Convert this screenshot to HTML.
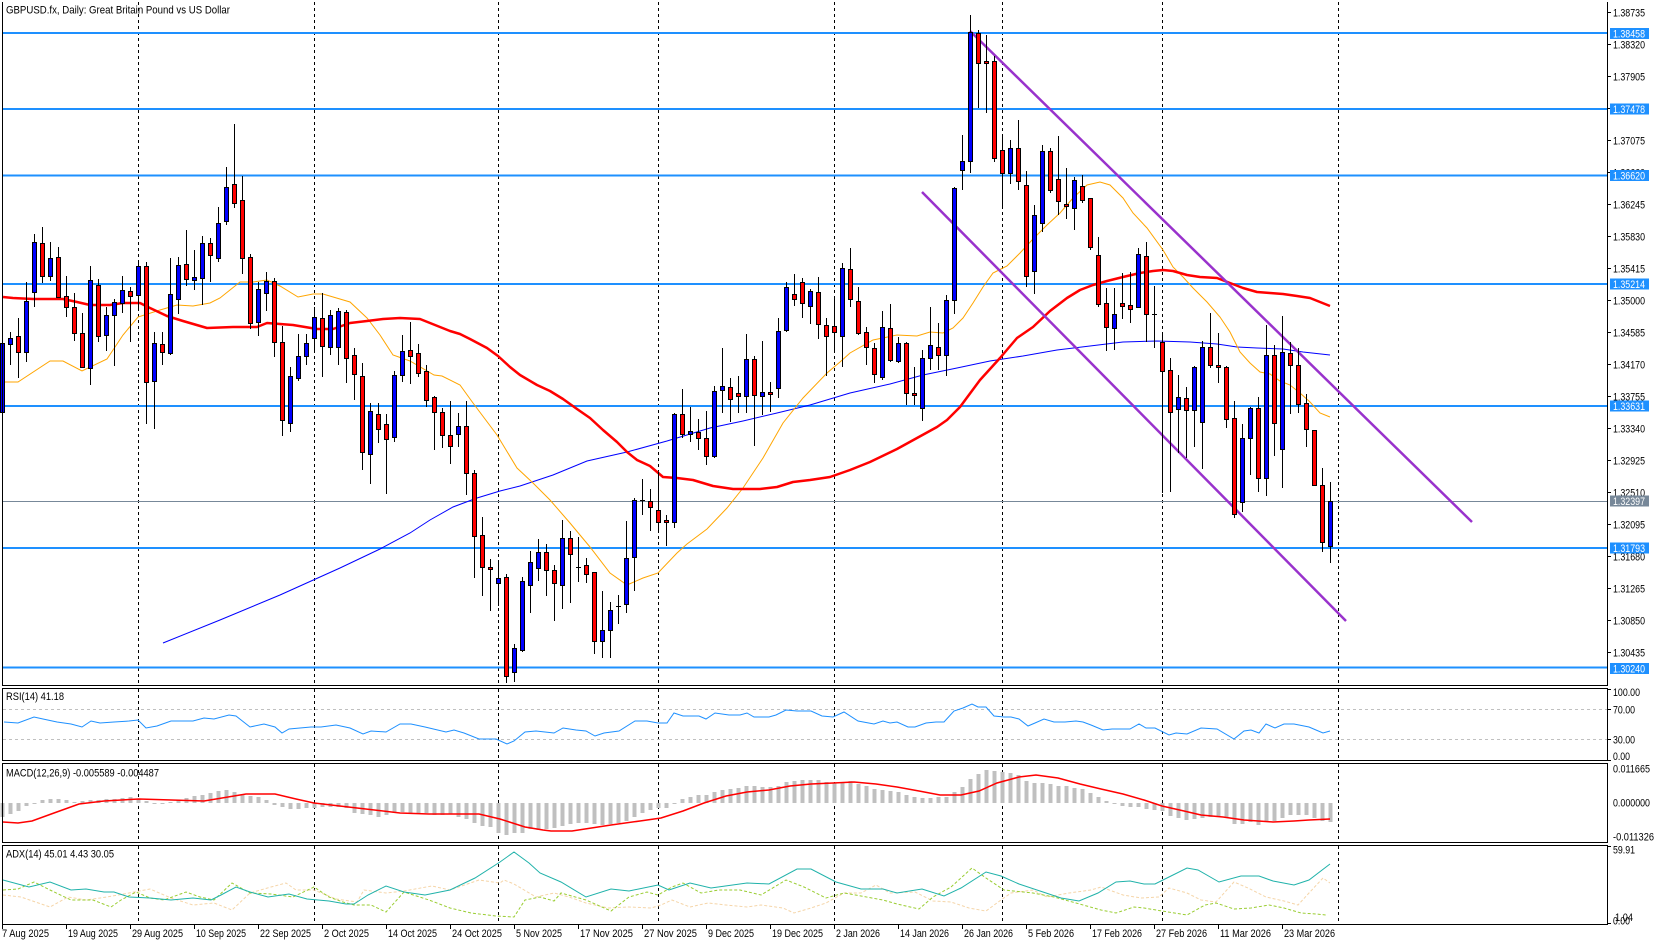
<!DOCTYPE html>
<html><head><meta charset="utf-8"><style>
html,body{margin:0;padding:0;background:#fff;}
svg{display:block;}
text{font-family:"Liberation Sans",Arial,sans-serif;font-size:11px;fill:#000;}
</style></head><body>
<svg width="1660" height="945" viewBox="0 0 1660 945" xmlns="http://www.w3.org/2000/svg">
<rect x="0" y="0" width="1660" height="945" fill="#fff"/>

<!-- separators -->
<g stroke="#000" stroke-width="1" stroke-dasharray="3,3" fill="none">
<path d="M138.5 2V685M314.5 2V685M498.5 2V685M658.5 2V685M834.5 2V685M1002.5 2V685M1162.5 2V685M1338.5 2V685"/>
<path d="M138.5 689V760M314.5 689V760M498.5 689V760M658.5 689V760M834.5 689V760M1002.5 689V760M1162.5 689V760M1338.5 689V760"/>
<path d="M138.5 764V842M314.5 764V842M498.5 764V842M658.5 764V842M834.5 764V842M1002.5 764V842M1162.5 764V842M1338.5 764V842"/>
<path d="M138.5 846V924M314.5 846V924M498.5 846V924M658.5 846V924M834.5 846V924M1002.5 846V924M1162.5 846V924M1338.5 846V924"/>
</g>

<!-- horizontal levels -->
<g stroke="#1e90ff" stroke-width="2">
<path d="M2 33H1607M2 109H1607M2 175.5H1607M2 284H1607M2 406H1607M2 548H1607M2 667.5H1607"/>
</g>
<path d="M2 501.5H1607" stroke="#778899" stroke-width="1"/>

<!-- moving averages -->
<polyline fill="none" stroke="#0000ff" stroke-width="1" points="163,643 220,620 280,595 340,568 380,549 410,533 430,520 453,507 477,498 500,491 520,486 553,475 587,461 627,452 667,441 710,428 743,421 777,413 810,405 850,393 890,384 923,375 957,368 990,361 1023,356 1057,350 1090,346 1123,342 1157,341 1190,342 1217,344 1237,347 1257,348 1283,349 1303,352 1330,355"/>
<polyline fill="none" stroke="#ffa500" stroke-width="1" points="3,382 18,382 50,361 63,361 82,371 107,359 123,335 138,317 160,310 177,305 193,306 210,303 220,298 240,282 253,282 267,280 280,286 298,297 313,294 323,294 350,302 367,318 380,335 393,355 410,361 434,375 442,376 460,385 473,403 497,435 517,468 533,483 550,500 570,523 590,547 610,573 627,585 643,578 658,573 677,553 687,544 707,529 727,508 743,488 763,458 783,423 803,398 827,373 840,362 850,353 873,340 897,335 917,336 930,332 943,333 953,328 963,318 973,303 983,287 993,273 1007,266 1020,253 1033,239 1047,225 1060,213 1073,198 1087,185 1100,182 1110,185 1123,198 1133,213 1147,228 1163,250 1173,267 1183,277 1193,288 1207,302 1220,317 1230,332 1240,352 1250,363 1260,372 1270,374 1280,381 1290,385 1300,393 1310,402 1320,413 1330,417"/>
<polyline fill="none" stroke="#ff0000" stroke-width="2.5" stroke-linejoin="round" points="3,297 13,298 33,299 63,299 77,302 90,305 110,305 123,303 140,303 150,308 167,316 183,321 207,328 233,327 257,327 267,323 293,325 317,329 333,329 350,323 367,321 383,319 400,318 420,319 430,323 450,331 460,334 470,339 487,348 498,356 510,367 520,375 537,385 550,391 563,399 577,409 590,418 603,430 617,442 627,452 637,460 650,466 663,477 677,478 693,480 713,486 733,489 760,489 777,487 793,482 810,480 830,477 850,470 870,462 897,449 917,438 937,427 947,420 960,407 980,380 1000,358 1017,338 1033,327 1050,311 1067,298 1080,290 1093,285 1107,281 1123,277 1140,273 1153,271 1163,270 1173,271 1187,275 1200,277 1217,278 1230,283 1243,288 1257,292 1270,293 1283,294 1297,296 1310,298 1320,302 1330,306"/>

<!-- channel -->
<g stroke="#9932cc" stroke-width="2.5">
<line x1="970" y1="31" x2="1472" y2="522"/>
<line x1="922" y1="192" x2="1346" y2="621"/>
</g>

<!-- wicks -->
<path fill="none" stroke="#000" stroke-width="1" d="M2.5 343V412M10.5 332V365M18.5 318V378M26.5 282V362M34.5 234V307M42.5 227V283M50.5 242V281M58.5 247V297M66.5 276V317M74.5 293V341M82.5 313V367M90.5 266V385M98.5 279V342M106.5 307V351M114.5 299V366M122.5 276V313M130.5 287V342M138.5 260V308M146.5 262V424M154.5 332V429M162.5 332V365M170.5 258V355M178.5 257V314M186.5 230V286M194.5 250V290M202.5 236V305M210.5 238V282M218.5 207V262M226.5 167V225M234.5 124V208M242.5 176V274M250.5 254V329M258.5 282V336M266.5 272V311M274.5 278V357M282.5 326V436M290.5 367V432M298.5 334V381M306.5 334V365M314.5 307V353M322.5 293V377M330.5 310V355M338.5 308V365M346.5 310V383M354.5 348V400M362.5 363V470M370.5 403V484M378.5 403V443M386.5 414V494M394.5 371V442M402.5 335V382M410.5 322V384M418.5 344V377M426.5 365V407M434.5 396V450M442.5 408V448M450.5 401V464M458.5 413V447M466.5 401V495M474.5 470V578M482.5 517V596M490.5 559V611M498.5 560V606M506.5 574V683M514.5 644V682M522.5 577V652M530.5 551V613M538.5 539V581M546.5 544V596M554.5 565V621M562.5 520V609M570.5 531V603M578.5 537V582M576 567.5h5M586.5 558V583M594.5 572V654M602.5 591V658M610.5 602V658M618.5 595V624M616 606.5h5M626.5 521V613M634.5 498V591M642.5 479V515M640 500.5h5M650.5 489V531M658.5 472V532M666.5 515V546M674.5 413V528M682.5 389V438M690.5 407V442M698.5 419V450M706.5 411V465M714.5 386V458M722.5 348V413M730.5 378V422M738.5 376V413M746.5 334V413M754.5 356V446M762.5 341V415M770.5 382V412M778.5 318V398M786.5 282V332M794.5 274V306M802.5 278V318M810.5 289V324M818.5 277V339M826.5 318V376M834.5 296V352M842.5 263V367M850.5 248V307M858.5 287V335M866.5 327V365M874.5 343V383M882.5 311V380M890.5 304V362M898.5 337V363M906.5 342V405M914.5 367V405M922.5 350V421M930.5 307V370M938.5 323V370M946.5 295V376M954.5 187V314M962.5 135V190M970.5 15V173M978.5 30V108M986.5 35V113M994.5 56V162M1002.5 134V208M1010.5 140V184M1018.5 120V190M1026.5 171V287M1034.5 205V294M1042.5 145V232M1050.5 148V193M1058.5 136V215M1066.5 168V219M1074.5 177V230M1082.5 175V203M1090.5 198V250M1098.5 237V307M1106.5 288V351M1114.5 288V350M1122.5 273V319M1130.5 272V323M1138.5 248V308M1146.5 242V342M1154.5 286V348M1152 314.5h5M1162.5 332V493M1170.5 358V492M1178.5 375V453M1186.5 387V458M1194.5 366V447M1202.5 341V469M1210.5 313V368M1218.5 333V383M1226.5 366V428M1234.5 401V518M1242.5 424V512M1250.5 407V475M1258.5 397V492M1266.5 325V496M1274.5 345V456M1282.5 316V488M1290.5 342V414M1298.5 348V413M1306.5 394V447M1314.5 430V486M1322.5 468V552M1330.5 482V563"/>

<!-- bull bodies -->
<path fill="#0000ff" stroke="#000" stroke-width="1" d="M0.5 343.5h4v69h-4zM8.5 338.5h4v6h-4zM24.5 301.5h4v51h-4zM32.5 242.5h4v50h-4zM48.5 258.5h4v18h-4zM88.5 280.5h4v88h-4zM104.5 315.5h4v20h-4zM112.5 302.5h4v13h-4zM120.5 290.5h4v13h-4zM136.5 266.5h4v29h-4zM152.5 343.5h4v38h-4zM168.5 294.5h4v59h-4zM176.5 265.5h4v34h-4zM192.5 277.5h4v3h-4zM200.5 243.5h4v35h-4zM216.5 223.5h4v35h-4zM224.5 187.5h4v34h-4zM256.5 289.5h4v33h-4zM264.5 281.5h4v12h-4zM288.5 376.5h4v47h-4zM296.5 356.5h4v22h-4zM304.5 343.5h4v13h-4zM312.5 317.5h4v21h-4zM328.5 315.5h4v32h-4zM336.5 311.5h4v36h-4zM368.5 411.5h4v43h-4zM392.5 375.5h4v62h-4zM400.5 351.5h4v24h-4zM456.5 426.5h4v8h-4zM496.5 578.5h4v5h-4zM512.5 648.5h4v24h-4zM520.5 581.5h4v69h-4zM528.5 562.5h4v23h-4zM536.5 552.5h4v16h-4zM560.5 538.5h4v47h-4zM600.5 630.5h4v11h-4zM608.5 610.5h4v20h-4zM624.5 558.5h4v46h-4zM632.5 500.5h4v57h-4zM672.5 414.5h4v108h-4zM688.5 431.5h4v3h-4zM712.5 391.5h4v65h-4zM720.5 386.5h4v4h-4zM744.5 359.5h4v37h-4zM760.5 392.5h4v4h-4zM776.5 331.5h4v57h-4zM784.5 287.5h4v43h-4zM808.5 291.5h4v15h-4zM840.5 268.5h4v68h-4zM880.5 327.5h4v50h-4zM896.5 343.5h4v18h-4zM920.5 358.5h4v50h-4zM928.5 345.5h4v13h-4zM944.5 300.5h4v55h-4zM952.5 188.5h4v112h-4zM960.5 161.5h4v9h-4zM968.5 32.5h4v129h-4zM1008.5 148.5h4v25h-4zM1032.5 215.5h4v56h-4zM1040.5 151.5h4v72h-4zM1072.5 180.5h4v28h-4zM1112.5 314.5h4v14h-4zM1136.5 254.5h4v53h-4zM1176.5 397.5h4v12h-4zM1192.5 367.5h4v43h-4zM1200.5 347.5h4v75h-4zM1240.5 438.5h4v64h-4zM1248.5 408.5h4v30h-4zM1264.5 355.5h4v123h-4zM1280.5 352.5h4v97h-4zM1328.5 501.5h4v45h-4z"/>

<!-- bear bodies -->
<path fill="#ff0000" stroke="#000" stroke-width="1" d="M16.5 336.5h4v16h-4zM40.5 243.5h4v33h-4zM56.5 257.5h4v40h-4zM64.5 296.5h4v11h-4zM72.5 307.5h4v26h-4zM80.5 333.5h4v34h-4zM96.5 285.5h4v51h-4zM128.5 291.5h4v5h-4zM144.5 266.5h4v116h-4zM160.5 344.5h4v8h-4zM184.5 264.5h4v15h-4zM208.5 243.5h4v12h-4zM232.5 184.5h4v19h-4zM240.5 200.5h4v58h-4zM248.5 257.5h4v66h-4zM272.5 281.5h4v61h-4zM280.5 342.5h4v78h-4zM320.5 318.5h4v28h-4zM344.5 312.5h4v46h-4zM352.5 355.5h4v19h-4zM360.5 376.5h4v76h-4zM376.5 414.5h4v15h-4zM384.5 424.5h4v15h-4zM408.5 350.5h4v6h-4zM416.5 353.5h4v20h-4zM424.5 371.5h4v29h-4zM432.5 397.5h4v15h-4zM440.5 412.5h4v23h-4zM448.5 435.5h4v11h-4zM464.5 426.5h4v47h-4zM472.5 473.5h4v63h-4zM480.5 535.5h4v32h-4zM488.5 567.5h4v2h-4zM504.5 577.5h4v99h-4zM544.5 552.5h4v18h-4zM552.5 570.5h4v13h-4zM568.5 538.5h4v16h-4zM584.5 565.5h4v9h-4zM592.5 572.5h4v69h-4zM648.5 501.5h4v6h-4zM656.5 510.5h4v12h-4zM664.5 520.5h4v2h-4zM680.5 414.5h4v20h-4zM696.5 432.5h4v6h-4zM704.5 438.5h4v18h-4zM728.5 387.5h4v12h-4zM736.5 393.5h4v3h-4zM752.5 359.5h4v36h-4zM768.5 392.5h4v2h-4zM792.5 294.5h4v5h-4zM800.5 282.5h4v21h-4zM816.5 292.5h4v32h-4zM824.5 325.5h4v11h-4zM832.5 326.5h4v6h-4zM848.5 269.5h4v30h-4zM856.5 301.5h4v32h-4zM864.5 332.5h4v15h-4zM872.5 348.5h4v26h-4zM888.5 328.5h4v32h-4zM904.5 343.5h4v50h-4zM912.5 393.5h4v2h-4zM936.5 347.5h4v8h-4zM976.5 33.5h4v30h-4zM984.5 61.5h4v2h-4zM992.5 61.5h4v97h-4zM1000.5 150.5h4v23h-4zM1016.5 148.5h4v33h-4zM1024.5 185.5h4v91h-4zM1048.5 151.5h4v39h-4zM1056.5 179.5h4v22h-4zM1064.5 204.5h4v2h-4zM1080.5 186.5h4v14h-4zM1088.5 198.5h4v49h-4zM1096.5 255.5h4v49h-4zM1104.5 303.5h4v24h-4zM1120.5 303.5h4v3h-4zM1128.5 305.5h4v4h-4zM1144.5 256.5h4v58h-4zM1160.5 342.5h4v29h-4zM1168.5 370.5h4v42h-4zM1184.5 398.5h4v12h-4zM1208.5 347.5h4v18h-4zM1216.5 365.5h4v2h-4zM1224.5 367.5h4v52h-4zM1232.5 418.5h4v96h-4zM1256.5 408.5h4v70h-4zM1272.5 355.5h4v68h-4zM1288.5 353.5h4v12h-4zM1296.5 365.5h4v39h-4zM1304.5 403.5h4v26h-4zM1312.5 430.5h4v55h-4zM1320.5 485.5h4v57h-4z"/>

<!-- title -->
<text x="6" y="13.5" textLength="224" lengthAdjust="spacingAndGlyphs">GBPUSD.fx, Daily:  Great Britain Pound vs US Dollar</text>

<!-- RSI -->
<g stroke="#c0c0c0" stroke-width="1" stroke-dasharray="3,3"><path d="M3 709.5H1607M3 739.5H1607"/></g>
<polyline fill="none" stroke="#1e90ff" stroke-width="1" points="4,722 18,723 34,717 43,719 57,722 71,724 82,727 91,721 100,723 114,722 129,721 138,720 146,728 157,726 171,721 193,721 204,718 214,719 229,715 236,716 250,727 264,724 275,727 282,733 289,729 311,727 321,727 336,725 350,728 363,734 371,731 386,732 400,724 411,724 425,727 446,732 454,730 464,733 479,739 496,739 507,744 514,741 525,732 536,731 554,733 563,728 576,730 586,731 595,736 604,733 619,731 635,721 647,721 658,723 667,723 674,713 683,716 699,716 706,719 715,713 729,715 740,715 747,713 754,717 769,717 776,715 786,710 797,711 811,711 822,716 833,717 844,712 858,721 874,724 883,721 890,723 897,722 908,727 915,727 926,723 936,722 944,722 954,711 963,708 972,704 978,707 986,707 994,716 1004,717 1011,717 1019,719 1028,726 1035,723 1044,719 1054,722 1065,722 1076,721 1083,722 1091,725 1103,730 1112,729 1130,729 1139,724 1146,728 1155,728 1169,735 1176,733 1187,734 1201,728 1217,729 1234,739 1244,731 1251,730 1259,733 1266,724 1275,728 1284,724 1294,724 1309,727 1316,730 1323,733 1330,731"/>
<text x="6" y="700" textLength="58" lengthAdjust="spacingAndGlyphs">RSI(14) 41.18</text>

<!-- MACD histogram -->
<path fill="#c0c0c0" d="M0.5 803h4v14h-4zM8.5 803h4v11h-4zM16.5 803h4v8h-4zM24.5 803h4v3h-4zM32.5 803h4v1h-4zM40.5 803h4v-3h-4zM48.5 803h4v-4h-4zM56.5 803h4v-4h-4zM64.5 803h4v-3h-4zM72.5 803h4v-1h-4zM80.5 803h4v-2h-4zM88.5 803h4v-3h-4zM96.5 803h4v-3h-4zM104.5 803h4v-4h-4zM112.5 803h4v-4h-4zM120.5 803h4v-5h-4zM128.5 803h4v-6h-4zM136.5 803h4v-4h-4zM144.5 803h4v-2h-4zM152.5 803h4v1h-4zM160.5 803h4v1h-4zM168.5 803h4v-1h-4zM176.5 803h4v-3h-4zM184.5 803h4v-5h-4zM192.5 803h4v-7h-4zM200.5 803h4v-8h-4zM208.5 803h4v-10h-4zM216.5 803h4v-12h-4zM224.5 803h4v-13h-4zM232.5 803h4v-11h-4zM240.5 803h4v-9h-4zM248.5 803h4v-7h-4zM256.5 803h4v-6h-4zM264.5 803h4v-3h-4zM272.5 803h4v2h-4zM280.5 803h4v4h-4zM288.5 803h4v6h-4zM296.5 803h4v6h-4zM304.5 803h4v5h-4zM312.5 803h4v5h-4zM320.5 803h4v4h-4zM328.5 803h4v4h-4zM336.5 803h4v4h-4zM344.5 803h4v5h-4zM352.5 803h4v10h-4zM360.5 803h4v11h-4zM368.5 803h4v12h-4zM376.5 803h4v14h-4zM384.5 803h4v12h-4zM392.5 803h4v10h-4zM400.5 803h4v9h-4zM408.5 803h4v10h-4zM416.5 803h4v10h-4zM424.5 803h4v10h-4zM432.5 803h4v12h-4zM440.5 803h4v12h-4zM448.5 803h4v11h-4zM456.5 803h4v14h-4zM464.5 803h4v16h-4zM472.5 803h4v20h-4zM480.5 803h4v23h-4zM488.5 803h4v24h-4zM496.5 803h4v30h-4zM504.5 803h4v32h-4zM512.5 803h4v30h-4zM520.5 803h4v30h-4zM528.5 803h4v26h-4zM536.5 803h4v27h-4zM544.5 803h4v26h-4zM552.5 803h4v25h-4zM560.5 803h4v23h-4zM568.5 803h4v21h-4zM576.5 803h4v20h-4zM584.5 803h4v20h-4zM592.5 803h4v21h-4zM600.5 803h4v22h-4zM608.5 803h4v21h-4zM616.5 803h4v20h-4zM624.5 803h4v18h-4zM632.5 803h4v14h-4zM640.5 803h4v10h-4zM648.5 803h4v7h-4zM656.5 803h4v5h-4zM664.5 803h4v5h-4zM672.5 803h4v1h-4zM680.5 803h4v-4h-4zM688.5 803h4v-6h-4zM696.5 803h4v-8h-4zM704.5 803h4v-8h-4zM712.5 803h4v-11h-4zM720.5 803h4v-13h-4zM728.5 803h4v-14h-4zM736.5 803h4v-15h-4zM744.5 803h4v-17h-4zM752.5 803h4v-17h-4zM760.5 803h4v-16h-4zM768.5 803h4v-16h-4zM776.5 803h4v-17h-4zM784.5 803h4v-21h-4zM792.5 803h4v-22h-4zM800.5 803h4v-23h-4zM808.5 803h4v-23h-4zM816.5 803h4v-23h-4zM824.5 803h4v-21h-4zM832.5 803h4v-20h-4zM840.5 803h4v-20h-4zM848.5 803h4v-22h-4zM856.5 803h4v-19h-4zM864.5 803h4v-17h-4zM872.5 803h4v-14h-4zM880.5 803h4v-13h-4zM888.5 803h4v-12h-4zM896.5 803h4v-11h-4zM904.5 803h4v-8h-4zM912.5 803h4v-6h-4zM920.5 803h4v-5h-4zM928.5 803h4v-5h-4zM936.5 803h4v-6h-4zM944.5 803h4v-6h-4zM952.5 803h4v-11h-4zM960.5 803h4v-16h-4zM968.5 803h4v-24h-4zM976.5 803h4v-29h-4zM984.5 803h4v-33h-4zM992.5 803h4v-32h-4zM1000.5 803h4v-31h-4zM1008.5 803h4v-30h-4zM1016.5 803h4v-28h-4zM1024.5 803h4v-22h-4zM1032.5 803h4v-20h-4zM1040.5 803h4v-20h-4zM1048.5 803h4v-19h-4zM1056.5 803h4v-17h-4zM1064.5 803h4v-17h-4zM1072.5 803h4v-15h-4zM1080.5 803h4v-14h-4zM1088.5 803h4v-10h-4zM1096.5 803h4v-6h-4zM1104.5 803h4v-2h-4zM1112.5 803h4v1h-4zM1120.5 803h4v3h-4zM1128.5 803h4v4h-4zM1136.5 803h4v4h-4zM1144.5 803h4v6h-4zM1152.5 803h4v7h-4zM1160.5 803h4v8h-4zM1168.5 803h4v13h-4zM1176.5 803h4v15h-4zM1184.5 803h4v17h-4zM1192.5 803h4v16h-4zM1200.5 803h4v15h-4zM1208.5 803h4v14h-4zM1216.5 803h4v14h-4zM1224.5 803h4v15h-4zM1232.5 803h4v21h-4zM1240.5 803h4v21h-4zM1248.5 803h4v19h-4zM1256.5 803h4v22h-4zM1264.5 803h4v19h-4zM1272.5 803h4v18h-4zM1280.5 803h4v15h-4zM1288.5 803h4v12h-4zM1296.5 803h4v12h-4zM1304.5 803h4v12h-4zM1312.5 803h4v15h-4zM1320.5 803h4v18h-4zM1328.5 803h4v19h-4z"/>
<polyline fill="none" stroke="#ff0000" stroke-width="1.5" points="3,822 18,823 32,821 54,813 79,804 104,801 139,799 204,801 246,794 275,794 296,799 314,803 357,808 400,813 429,814 479,814 500,819 525,827 543,830 551,831 572,831 611,825 640,821 661,818 683,811 704,803 726,796 747,792 769,790 790,786 811,784 833,783 854,782 876,784 897,787 919,791 940,795 961,795 979,791 997,783 1019,777 1036,775 1058,778 1080,784 1101,789 1123,794 1144,800 1162,806 1184,811 1201,815 1223,817 1244,820 1273,822 1294,821 1309,820 1330,819"/>
<text x="6" y="776.5" textLength="153" lengthAdjust="spacingAndGlyphs">MACD(12,26,9) -0.005589 -0.004487</text>

<!-- ADX -->
<polyline fill="none" stroke="#f5d5a8" stroke-width="1" stroke-dasharray="3,2" points="3,895 21,897 50,907 68,897 86,900 107,897 129,893 150,889 171,898 193,905 214,903 232,910 250,893 271,887 286,883 296,890 314,890 336,899 357,902 364,890 386,893 404,891 432,886 450,890 479,880 500,883 504,880 514,884 536,897 554,893 569,897 586,903 608,908 629,907 651,908 661,905 672,900 690,907 708,903 726,905 747,907 761,905 783,908 794,913 811,908 826,903 844,893 861,893 876,885 890,893 915,892 933,901 951,902 969,908 986,911 1001,900 1011,893 1033,890 1047,897 1069,893 1091,890 1101,887 1123,895 1141,898 1159,897 1169,888 1187,893 1201,900 1216,902 1234,882 1248,888 1266,897 1284,901 1298,905 1309,893 1323,878 1330,883"/>
<polyline fill="none" stroke="#9acd32" stroke-width="1" stroke-dasharray="3,2" points="3,890 18,889 34,882 50,890 71,900 93,900 111,907 121,900 136,892 150,898 164,900 186,892 200,897 214,900 232,883 250,893 271,894 293,897 314,887 329,897 343,902 354,905 371,905 386,912 404,892 429,900 450,908 471,913 496,916 514,917 525,900 540,897 554,901 561,893 586,900 611,911 629,897 647,892 658,895 672,887 683,883 701,893 719,890 740,890 761,895 786,880 804,887 826,898 844,893 861,896 883,900 897,904 919,909 933,897 951,887 972,868 986,878 1004,890 1033,893 1054,897 1076,903 1101,910 1116,913 1134,907 1144,908 1162,911 1187,915 1205,905 1216,903 1234,909 1251,908 1269,905 1284,908 1301,913 1316,914 1326,915"/>
<polyline fill="none" stroke="#20b2aa" stroke-width="1" points="3,880 29,887 50,882 71,890 86,889 104,892 114,892 129,897 150,898 171,900 193,898 211,900 221,895 236,887 250,892 268,897 289,894 307,899 329,901 346,904 354,904 368,895 386,886 404,892 425,895 450,890 475,878 500,862 514,852 529,863 540,873 561,882 586,897 611,889 629,891 658,885 669,890 690,883 711,888 747,883 769,884 797,869 811,869 836,882 861,889 883,889 897,893 922,889 944,896 961,888 986,872 1001,876 1019,884 1040,891 1061,898 1079,901 1098,893 1116,882 1130,881 1144,884 1155,884 1169,877 1187,868 1198,870 1219,882 1241,876 1259,876 1273,881 1294,885 1309,880 1330,864"/>
<text x="6" y="857.5" textLength="108" lengthAdjust="spacingAndGlyphs">ADX(14) 45.01 4.43 30.05</text>

<!-- frames -->
<g stroke="#000" stroke-width="1" fill="none">
<path d="M2.5 2V685.5H1607.5V2"/>
<rect x="2.5" y="688.5" width="1605" height="72"/>
<rect x="2.5" y="763.5" width="1605" height="79"/>
<rect x="2.5" y="845.5" width="1605" height="79"/>
<!-- axis ticks -->
<path d="M1607 12.5h4M1607 44.5h4M1607 76.5h4M1607 108.5h4M1607 140.5h4M1607 172.5h4M1607 204.5h4M1607 236.5h4M1607 268.5h4M1607 300.5h4M1607 332.5h4M1607 364.5h4M1607 396.5h4M1607 428.5h4M1607 460.5h4M1607 492.5h4M1607 524.5h4M1607 556.5h4M1607 588.5h4M1607 620.5h4M1607 652.5h4"/>
<path d="M1607 689.5h4M1607 709.5h4M1607 739.5h4M1607 760.5h4M1607 846.5h4M1607 923.5h4"/>
<path d="M2.5 925v4M66.5 925v4M130.5 925v4M194.5 925v4M258.5 925v4M322.5 925v4M386.5 925v4M450.5 925v4M514.5 925v4M578.5 925v4M642.5 925v4M706.5 925v4M770.5 925v4M834.5 925v4M898.5 925v4M962.5 925v4M1026.5 925v4M1090.5 925v4M1154.5 925v4M1218.5 925v4M1282.5 925v4"/>
</g>

<!-- price labels -->
<g>
<text x="1613" y="16.5" textLength="32" lengthAdjust="spacingAndGlyphs">1.38735</text>
<text x="1613" y="48.5" textLength="32" lengthAdjust="spacingAndGlyphs">1.38320</text>
<text x="1613" y="80.5" textLength="32" lengthAdjust="spacingAndGlyphs">1.37905</text>
<text x="1613" y="112.5" textLength="32" lengthAdjust="spacingAndGlyphs">1.37490</text>
<text x="1613" y="144.5" textLength="32" lengthAdjust="spacingAndGlyphs">1.37075</text>
<text x="1613" y="176.5" textLength="32" lengthAdjust="spacingAndGlyphs">1.36660</text>
<text x="1613" y="208.5" textLength="32" lengthAdjust="spacingAndGlyphs">1.36245</text>
<text x="1613" y="240.5" textLength="32" lengthAdjust="spacingAndGlyphs">1.35830</text>
<text x="1613" y="272.5" textLength="32" lengthAdjust="spacingAndGlyphs">1.35415</text>
<text x="1613" y="304.5" textLength="32" lengthAdjust="spacingAndGlyphs">1.35000</text>
<text x="1613" y="336.5" textLength="32" lengthAdjust="spacingAndGlyphs">1.34585</text>
<text x="1613" y="368.5" textLength="32" lengthAdjust="spacingAndGlyphs">1.34170</text>
<text x="1613" y="400.5" textLength="32" lengthAdjust="spacingAndGlyphs">1.33755</text>
<text x="1613" y="432.5" textLength="32" lengthAdjust="spacingAndGlyphs">1.33340</text>
<text x="1613" y="464.5" textLength="32" lengthAdjust="spacingAndGlyphs">1.32925</text>
<text x="1613" y="496.5" textLength="32" lengthAdjust="spacingAndGlyphs">1.32510</text>
<text x="1613" y="528.5" textLength="32" lengthAdjust="spacingAndGlyphs">1.32095</text>
<text x="1613" y="560.5" textLength="32" lengthAdjust="spacingAndGlyphs">1.31680</text>
<text x="1613" y="592.5" textLength="32" lengthAdjust="spacingAndGlyphs">1.31265</text>
<text x="1613" y="624.5" textLength="32" lengthAdjust="spacingAndGlyphs">1.30850</text>
<text x="1613" y="656.5" textLength="32" lengthAdjust="spacingAndGlyphs">1.30435</text>
</g>
<!-- price boxes -->
<g>
<rect x="1610" y="28" width="39" height="11" fill="#1e90ff"/>
<rect x="1610" y="103.5" width="39" height="11" fill="#1e90ff"/>
<rect x="1610" y="170" width="39" height="11" fill="#1e90ff"/>
<rect x="1610" y="278.5" width="39" height="11" fill="#1e90ff"/>
<rect x="1610" y="400.5" width="39" height="11" fill="#1e90ff"/>
<rect x="1610" y="495.5" width="39" height="11" fill="#778899"/>
<rect x="1610" y="542.5" width="39" height="11" fill="#1e90ff"/>
<rect x="1610" y="663" width="39" height="11" fill="#1e90ff"/>
</g>
<g style="fill:#fff">
<text x="1613" y="37.5" textLength="32" lengthAdjust="spacingAndGlyphs" style="fill:#fff">1.38458</text>
<text x="1613" y="113" textLength="32" lengthAdjust="spacingAndGlyphs" style="fill:#fff">1.37478</text>
<text x="1613" y="179.5" textLength="32" lengthAdjust="spacingAndGlyphs" style="fill:#fff">1.36620</text>
<text x="1613" y="288" textLength="32" lengthAdjust="spacingAndGlyphs" style="fill:#fff">1.35214</text>
<text x="1613" y="410" textLength="32" lengthAdjust="spacingAndGlyphs" style="fill:#fff">1.33631</text>
<text x="1613" y="505" textLength="32" lengthAdjust="spacingAndGlyphs" style="fill:#fff">1.32397</text>
<text x="1613" y="552" textLength="32" lengthAdjust="spacingAndGlyphs" style="fill:#fff">1.31793</text>
<text x="1613" y="672.5" textLength="32" lengthAdjust="spacingAndGlyphs" style="fill:#fff">1.30240</text>
</g>

<!-- indicator scale labels -->
<text x="1613" y="696" textLength="27" lengthAdjust="spacingAndGlyphs">100.00</text>
<text x="1613" y="713.5" textLength="22" lengthAdjust="spacingAndGlyphs">70.00</text>
<text x="1613" y="743.5" textLength="22" lengthAdjust="spacingAndGlyphs">30.00</text>
<text x="1613" y="760" textLength="17" lengthAdjust="spacingAndGlyphs">0.00</text>
<text x="1613" y="772.5" textLength="37" lengthAdjust="spacingAndGlyphs">0.011665</text>
<text x="1613" y="806.5" textLength="37" lengthAdjust="spacingAndGlyphs">0.000000</text>
<text x="1613" y="840.5" textLength="41" lengthAdjust="spacingAndGlyphs">-0.011326</text>
<text x="1613" y="853.5" textLength="22" lengthAdjust="spacingAndGlyphs">59.91</text>
<text x="1615" y="921" textLength="18" lengthAdjust="spacingAndGlyphs">1.04</text>
<text x="1613" y="924.5" textLength="17" lengthAdjust="spacingAndGlyphs">0.00</text>

<!-- time labels -->
<g>
<text x="2" y="937" textLength="47" lengthAdjust="spacingAndGlyphs">7 Aug 2025</text>
<text x="68" y="937" textLength="50" lengthAdjust="spacingAndGlyphs">19 Aug 2025</text>
<text x="132" y="937" textLength="51" lengthAdjust="spacingAndGlyphs">29 Aug 2025</text>
<text x="196" y="937" textLength="50" lengthAdjust="spacingAndGlyphs">10 Sep 2025</text>
<text x="260" y="937" textLength="51" lengthAdjust="spacingAndGlyphs">22 Sep 2025</text>
<text x="324" y="937" textLength="45" lengthAdjust="spacingAndGlyphs">2 Oct 2025</text>
<text x="388" y="937" textLength="49" lengthAdjust="spacingAndGlyphs">14 Oct 2025</text>
<text x="452" y="937" textLength="50" lengthAdjust="spacingAndGlyphs">24 Oct 2025</text>
<text x="516" y="937" textLength="46" lengthAdjust="spacingAndGlyphs">5 Nov 2025</text>
<text x="580" y="937" textLength="53" lengthAdjust="spacingAndGlyphs">17 Nov 2025</text>
<text x="644" y="937" textLength="53" lengthAdjust="spacingAndGlyphs">27 Nov 2025</text>
<text x="708" y="937" textLength="46" lengthAdjust="spacingAndGlyphs">9 Dec 2025</text>
<text x="772" y="937" textLength="51" lengthAdjust="spacingAndGlyphs">19 Dec 2025</text>
<text x="836" y="937" textLength="44" lengthAdjust="spacingAndGlyphs">2 Jan 2026</text>
<text x="900" y="937" textLength="49" lengthAdjust="spacingAndGlyphs">14 Jan 2026</text>
<text x="964" y="937" textLength="49" lengthAdjust="spacingAndGlyphs">26 Jan 2026</text>
<text x="1028" y="937" textLength="46" lengthAdjust="spacingAndGlyphs">5 Feb 2026</text>
<text x="1092" y="937" textLength="50" lengthAdjust="spacingAndGlyphs">17 Feb 2026</text>
<text x="1156" y="937" textLength="51" lengthAdjust="spacingAndGlyphs">27 Feb 2026</text>
<text x="1220" y="937" textLength="51" lengthAdjust="spacingAndGlyphs">11 Mar 2026</text>
<text x="1284" y="937" textLength="51" lengthAdjust="spacingAndGlyphs">23 Mar 2026</text>
</g>
</svg>
</body></html>
